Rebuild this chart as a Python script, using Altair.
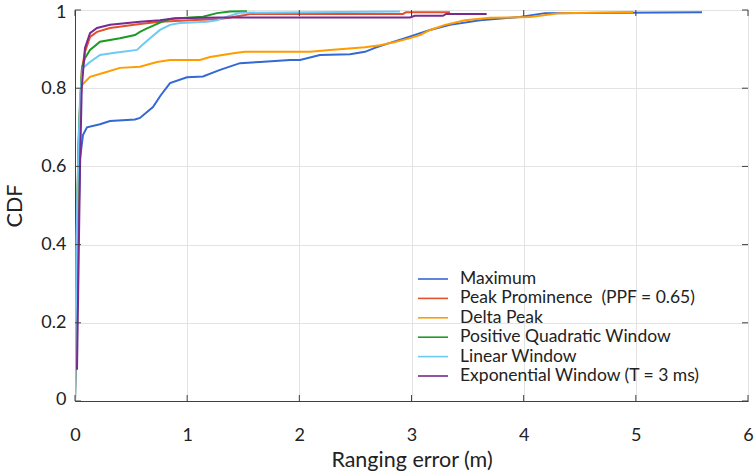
import altair as alt
import pandas as pd

series_names = [
    "Maximum",
    "Peak Prominence\u00a0 (PPF = 0.65)",
    "Delta Peak",
    "Positive Quadratic Window",
    "Linear Window",
    "Exponential Window (T = 3 ms)",
]
series_colors = ["#3468d2", "#e2502c", "#ff9c00", "#1b9a25", "#6ec9f5", "#7a2a8f"]

max_x = [0.0, 0.027, 0.045, 0.071, 0.107, 0.223, 0.312, 0.535, 0.579, 0.695, 0.76, 0.847, 0.998, 1.141,
         1.293, 1.471, 1.649, 1.917, 2.006, 2.184, 2.452, 2.585, 2.674, 2.808, 2.942, 3.165, 3.343,
         3.611, 3.967, 4.19, 5.59]
max_y = [0.0, 0.4, 0.62, 0.68, 0.70, 0.708, 0.716, 0.72, 0.724, 0.752, 0.78, 0.813, 0.828, 0.83,
         0.847, 0.864, 0.867, 0.872, 0.872, 0.885, 0.887, 0.893, 0.903, 0.916, 0.928, 0.949, 0.962,
         0.974, 0.982, 0.992, 0.994]

pp_x = [0.0, 0.009, 0.036, 0.062, 0.089, 0.134, 0.196, 0.312, 0.579, 0.758, 1.025, 1.293, 1.382,
        1.516, 1.56, 2.924, 2.95, 3.343]
pp_y = [0.0, 0.3, 0.7, 0.85, 0.893, 0.931, 0.944, 0.954, 0.964, 0.970, 0.974, 0.977, 0.981,
        0.987, 0.99, 0.99, 0.994, 0.994]

dp_x = [0.0, 0.005, 0.027, 0.045, 0.062, 0.134, 0.25, 0.401, 0.579, 0.731, 0.847, 1.114, 1.204,
        1.426, 1.516, 2.095, 2.273, 2.585, 2.719, 2.853, 2.987, 3.076, 3.165, 3.299, 3.477, 3.70,
        4.056, 4.145, 4.324, 4.975]
dp_y = [0.0, 0.26, 0.6, 0.76, 0.808, 0.829, 0.839, 0.852, 0.855, 0.867, 0.872, 0.872, 0.880,
        0.890, 0.893, 0.893, 0.898, 0.905, 0.910, 0.918, 0.928, 0.936, 0.949, 0.962, 0.974, 0.980,
        0.982, 0.985, 0.992, 0.995]

pq_x = [0.0, 0.013, 0.036, 0.062, 0.089, 0.134, 0.223, 0.401, 0.535, 0.579, 0.642, 0.713, 0.758,
        0.847, 1.025, 1.141, 1.266, 1.382, 1.533]
pq_y = [0.0, 0.4, 0.7, 0.85, 0.877, 0.898, 0.919, 0.928, 0.936, 0.944, 0.953, 0.962, 0.968,
        0.977, 0.981, 0.983, 0.992, 0.996, 0.997]

lw_x = [0.0, 0.018, 0.045, 0.071, 0.134, 0.223, 0.339, 0.553, 0.597, 0.669, 0.758, 0.847, 0.936,
        1.177, 1.266, 1.355, 1.471, 2.897]
lw_y = [0.0, 0.5, 0.78, 0.852, 0.867, 0.885, 0.890, 0.898, 0.910, 0.928, 0.949, 0.962, 0.967,
        0.970, 0.974, 0.983, 0.993, 0.996]

ew_x = [0.018, 0.045, 0.06, 0.089, 0.134, 0.196, 0.312, 0.579, 0.758, 0.892, 1.293, 2.987, 3.03,
        3.28, 3.31, 3.67]
ew_y = [0.08, 0.6, 0.8, 0.903, 0.941, 0.954, 0.962, 0.970, 0.974, 0.979, 0.981, 0.981, 0.985,
        0.985, 0.99, 0.99]

x_ticks = [0, 1, 2, 3, 4, 5, 6]
y_ticks = [0, 0.2, 0.4, 0.6, 0.8, 1.0]

all_x = [max_x, pp_x, dp_x, pq_x, lw_x, ew_x]
all_y = [max_y, pp_y, dp_y, pq_y, lw_y, ew_y]

rows = []
for k, (name, xs, ys) in enumerate(zip(series_names, all_x, all_y)):
    for i, (xv, yv) in enumerate(zip(xs, ys)):
        rows.append({"series": name, "order": k, "idx": i, "err": xv, "cdf": yv})
df = pd.DataFrame(rows)
legend_df = pd.DataFrame({"series": series_names})

W, H = 673, 391
FONT = "Lato"
TXT = "#222222"
TICK_COLOR = "#404040"

axis_common = dict(
    labelFont=FONT, labelFontSize=18, labelColor=TXT,
    titleFont=FONT, titleFontSize=21.5, titleColor=TXT, titleFontWeight="normal",
    gridColor="#e3e3e3", gridWidth=1, domainColor=TICK_COLOR, domainWidth=1,
    grid=True, ticks=False,
)

xscale = alt.Scale(domain=[0, 6], nice=False, zero=False)
yscale = alt.Scale(domain=[0, 1], nice=False, zero=False)
cscale = alt.Scale(domain=series_names, range=series_colors)

lines = alt.Chart(df).mark_line(strokeWidth=2, clip=True).encode(
    x=alt.X("err:Q", scale=xscale,
            axis=alt.Axis(values=x_ticks, format="d", title="Ranging error (m)",
                          labelPadding=25, labelFlush=False, titleX=W / 2, titleY=59,
                          titleBaseline="middle", titleAlign="center", **axis_common)),
    y=alt.Y("cdf:Q", scale=yscale,
            axis=alt.Axis(values=y_ticks, format="~g", title="CDF", labelPadding=9,
                          labelFlush=True, labelFlushOffset=7,
                          titleX=-60, titleY=H / 2, titleBaseline="middle", titleAlign="center",
                          titleAngle=-90, **axis_common)),
    color=alt.Color("series:N", sort=series_names, scale=cscale, legend=None),
    order=alt.Order("idx:Q"),
    detail="series:N",
)

xt = pd.DataFrame({"v": x_ticks})
yt = pd.DataFrame({"v": y_ticks})

xtick_bottom = alt.Chart(xt).mark_rule(color=TICK_COLOR, strokeWidth=1).encode(
    x=alt.X("v:Q", scale=xscale), y=alt.value(H), y2=alt.value(H - 6))
xtick_top = alt.Chart(xt).mark_rule(color=TICK_COLOR, strokeWidth=1).encode(
    x=alt.X("v:Q", scale=xscale), y=alt.value(0), y2=alt.value(6))
ytick_left = alt.Chart(yt).mark_rule(color=TICK_COLOR, strokeWidth=1).encode(
    y=alt.Y("v:Q", scale=yscale, axis=None), x=alt.value(0), x2=alt.value(6))
ytick_right = alt.Chart(yt).mark_rule(color=TICK_COLOR, strokeWidth=1).encode(
    y=alt.Y("v:Q", scale=yscale, axis=None), x=alt.value(W), x2=alt.value(W - 6))

# manual legend (inside the plot, lower right)
leg_y = alt.Y("series:N", sort=series_names, axis=None,
              scale=alt.Scale(type="point", range=[269, 366], padding=0))
legend_lines = alt.Chart(legend_df).mark_rule(strokeWidth=1.6).encode(
    y=leg_y, x=alt.value(343), x2=alt.value(373),
    color=alt.Color("series:N", sort=series_names, scale=cscale, legend=None),
)
legend_text = alt.Chart(legend_df).mark_text(
    align="left", baseline="middle", font=FONT, fontSize=17.5, color=TXT
).encode(y=leg_y, x=alt.value(385), text="series:N")

chart = alt.layer(
    lines, xtick_bottom, xtick_top, ytick_left, ytick_right, legend_lines, legend_text
).resolve_scale(y="independent").properties(
    width=W, height=H,
    autosize=alt.AutoSizeParams(type="none"),
    padding={"left": 75, "top": 10, "right": 6, "bottom": 71},
    background="white",
).configure_view(
    stroke=TICK_COLOR, strokeWidth=1
)

chart.save("out.html", embed_options={"renderer": "svg", "actions": False})
